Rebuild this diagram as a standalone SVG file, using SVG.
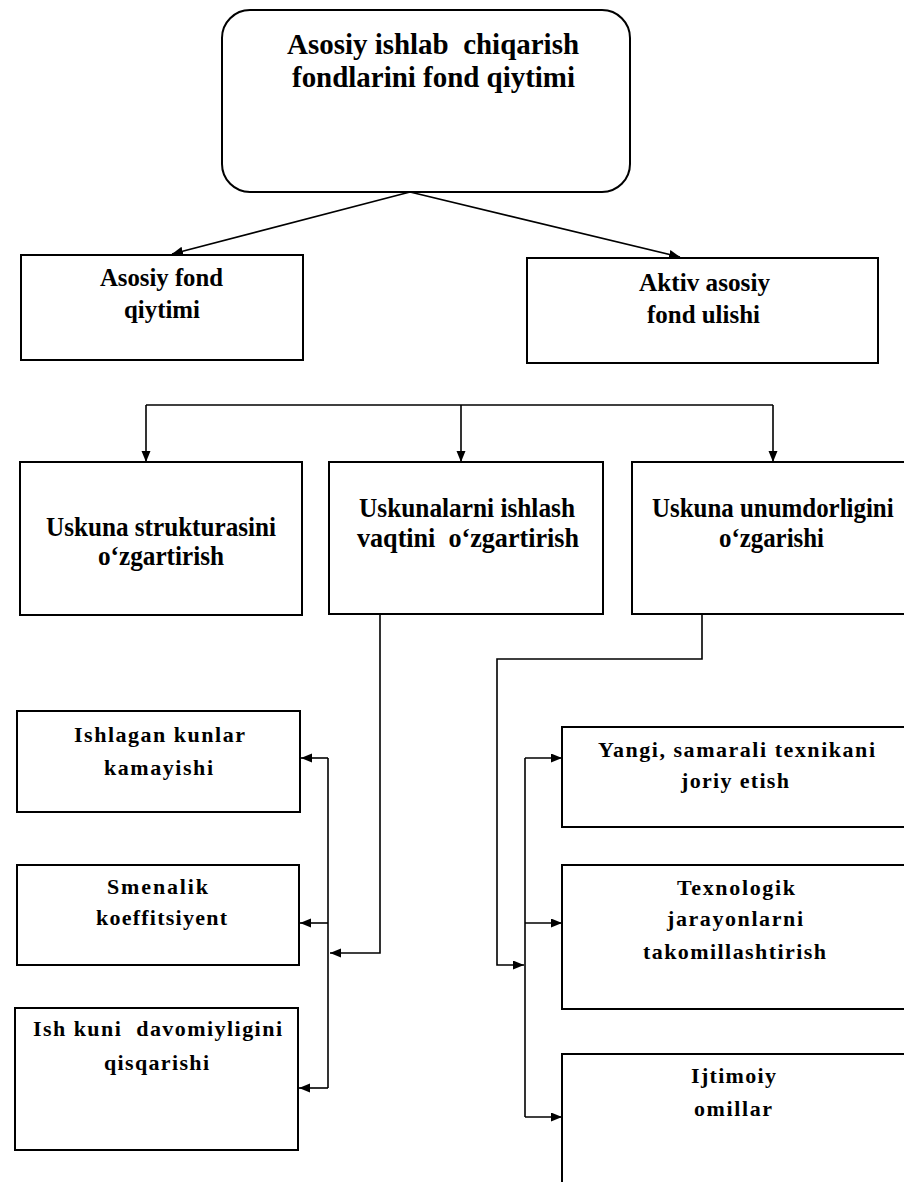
<svg xmlns="http://www.w3.org/2000/svg" width="904" height="1182" viewBox="0 0 904 1182">
  <style>
    .box { fill: #ffffff; stroke: #000000; stroke-width: 2; }
    .wire { fill: none; stroke: #000000; stroke-width: 1.6; }
    text { font-family: "Liberation Serif", "Times New Roman", serif; font-weight: bold; fill: #000000; white-space: pre; }
    .t1 { font-size: 30px; }
    .t2 { font-size: 26px; }
    .t3 { font-size: 28px; }
    .t4 { font-size: 22px; }
  </style>
  <defs>
    <marker id="arrow" markerUnits="userSpaceOnUse" markerWidth="12" markerHeight="10" refX="11" refY="4.5" orient="auto">
      <path d="M0,0 L11,4.5 L0,9 z" fill="#000000"/>
    </marker>
  </defs>
  <rect width="904" height="1182" fill="#ffffff"/>

  <!-- connectors -->
  <g id="connectors">
    <line class="wire" x1="410" y1="192" x2="172" y2="254" marker-end="url(#arrow)"/>
    <line class="wire" x1="410" y1="192" x2="680" y2="257" marker-end="url(#arrow)"/>
    <polyline class="wire" points="146,405 773,405"/>
    <line class="wire" x1="146" y1="405" x2="146" y2="462" marker-end="url(#arrow)"/>
    <line class="wire" x1="461" y1="405" x2="461" y2="462" marker-end="url(#arrow)"/>
    <line class="wire" x1="773" y1="405" x2="773" y2="462" marker-end="url(#arrow)"/>
    <!-- working-time branch -->
    <polyline class="wire" points="380,614 380,953 330,953" marker-end="url(#arrow)"/>
    <line class="wire" x1="328" y1="758" x2="328" y2="1088"/>
    <line class="wire" x1="328" y1="758" x2="301" y2="758" marker-end="url(#arrow)"/>
    <line class="wire" x1="328" y1="923" x2="300" y2="923" marker-end="url(#arrow)"/>
    <line class="wire" x1="328" y1="1088" x2="299" y2="1088" marker-end="url(#arrow)"/>
    <!-- productivity branch -->
    <polyline class="wire" points="702,614 702,659 497,659 497,965 524,965" marker-end="url(#arrow)"/>
    <line class="wire" x1="525" y1="758" x2="525" y2="1117"/>
    <line class="wire" x1="525" y1="758" x2="562" y2="758" marker-end="url(#arrow)"/>
    <line class="wire" x1="525" y1="923" x2="562" y2="923" marker-end="url(#arrow)"/>
    <line class="wire" x1="525" y1="1117" x2="562" y2="1117" marker-end="url(#arrow)"/>
  </g>

  <g id="root">
    <rect class="box" x="222" y="10" width="408" height="182" rx="28" ry="28"/>
    <text class="t1" x="287" y="54" textLength="292" lengthAdjust="spacingAndGlyphs">Asosiy ishlab  chiqarish</text>
    <text class="t1" x="292" y="87" textLength="283" lengthAdjust="spacingAndGlyphs">fondlarini fond qiytimi</text>
  </g>

  <g id="asosiy-fond">
    <rect class="box" x="21" y="255" width="282" height="105"/>
    <text class="t2" x="100" y="286" textLength="123" lengthAdjust="spacingAndGlyphs">Asosiy fond</text>
    <text class="t2" x="124" y="318" textLength="76" lengthAdjust="spacingAndGlyphs">qiytimi</text>
  </g>

  <g id="aktiv-fond">
    <rect class="box" x="527" y="258" width="351" height="105"/>
    <text class="t2" x="639" y="291" textLength="131" lengthAdjust="spacingAndGlyphs">Aktiv asosiy</text>
    <text class="t2" x="647" y="323" textLength="113" lengthAdjust="spacingAndGlyphs">fond ulishi</text>
  </g>

  <g id="struktura">
    <rect class="box" x="20" y="462" width="282" height="153"/>
    <text class="t3" x="46" y="536" textLength="230" lengthAdjust="spacingAndGlyphs">Uskuna strukturasini</text>
    <text class="t3" x="98" y="565" textLength="126" lengthAdjust="spacingAndGlyphs">o‘zgartirish</text>
  </g>

  <g id="ishlash-vaqti">
    <rect class="box" x="329" y="462" width="274" height="152"/>
    <text class="t3" x="359" y="517" textLength="216" lengthAdjust="spacingAndGlyphs">Uskunalarni ishlash</text>
    <text class="t3" x="357" y="547" textLength="222" lengthAdjust="spacingAndGlyphs">vaqtini  o‘zgartirish</text>
  </g>

  <g id="unumdorlik">
    <rect class="box" x="632" y="462" width="290" height="152"/>
    <!-- narrowed by a horizontal scale so the line stays inside the frame -->
    <text class="t3" transform="matrix(0.89 0 0 1 652 517)">Uskuna unumdorligini</text>
    <text class="t3" x="719" y="547" textLength="105" lengthAdjust="spacingAndGlyphs">o‘zgarishi</text>
  </g>

  <g id="kunlar">
    <rect class="box" x="17" y="711" width="283" height="101"/>
    <text class="t4" x="74" y="742" textLength="171">Ishlagan kunlar</text>
    <text class="t4" x="104" y="775" textLength="109">kamayishi</text>
  </g>

  <g id="smenalik">
    <rect class="box" x="17" y="865" width="282" height="100"/>
    <text class="t4" x="107" y="894" textLength="101">Smenalik</text>
    <text class="t4" x="96" y="925" textLength="131">koeffitsiyent</text>
  </g>

  <g id="ish-kuni">
    <rect class="box" x="15" y="1008" width="283" height="142"/>
    <text class="t4" x="33" y="1036" textLength="249">Ish kuni  davomiyligini</text>
    <text class="t4" x="104" y="1070" textLength="105">qisqarishi</text>
  </g>

  <g id="texnika">
    <rect class="box" x="562" y="727" width="360" height="100"/>
    <text class="t4" x="598" y="757" textLength="277">Yangi, samarali texnikani</text>
    <text class="t4" x="681" y="788" textLength="108">joriy etish</text>
  </g>

  <g id="texnologiya">
    <rect class="box" x="562" y="865" width="360" height="144"/>
    <text class="t4" x="677" y="895" textLength="118">Texnologik</text>
    <text class="t4" x="667" y="926" textLength="136">jarayonlarni</text>
    <text class="t4" x="643" y="959" textLength="183">takomillashtirish</text>
  </g>

  <g id="ijtimoiy">
    <rect class="box" x="562" y="1054" width="360" height="150"/>
    <text class="t4" x="691" y="1083" textLength="85">Ijtimoiy</text>
    <text class="t4" x="694" y="1116" textLength="78">omillar</text>
  </g>
</svg>
